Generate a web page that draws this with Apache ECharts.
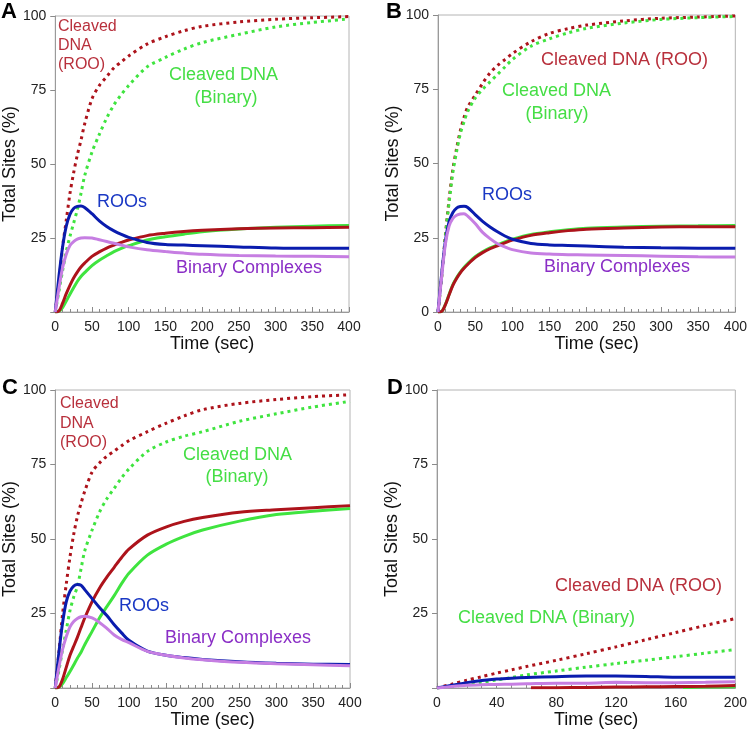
<!DOCTYPE html>
<html><head><meta charset="utf-8">
<script src="https://cdn.jsdelivr.net/npm/echarts@6/dist/echarts.min.js"></script>
<style>html,body{margin:0;padding:0;background:#fff}#c{width:750px;height:732px}</style>
</head><body><div id="c"></div>
<script>
// Time grids (sec)
var T = [0,5,10,15,20,25,30,35,40,50,60,70,80,90,100,125,150,175,200,250,300,350,400];
var TD = [0,10,20,30,40,50,60,80,100,120,140,160,180,200];
var TD_roo = [63,80,100,120,140,160,180,200];
var TD_bin = [165,180,200];

// Panel A
var A_cleavedROO = [0,10,22,31,40,47,53,58,63.5,72,76.5,79.5,82.5,84.5,86.5,90.5,93,95,96.5,98,98.9,99.4,99.8];
var A_cleavedBin = [0,7,14,20.5,25.5,30,34.5,40,46,54,60,65.5,70,73.5,76.5,82.8,86,88.8,91,93.8,96.3,97.8,99];
var A_roos       = [0,12,22,29,33,35,35.7,35.8,35.3,33.2,30.8,28.9,27.4,26.2,25.2,23.5,22.8,22.6,22.4,22,21.6,21.5,21.5];
var A_binary     = [0,8,15,19.5,22.5,23.8,24.6,25,25.1,25,24.4,23.8,23.2,22.6,22,21,20.4,19.9,19.5,19.1,18.9,18.8,18.7];
var A_redSolid   = [0,0.3,3,6.2,9,11.5,13.5,15.2,16.5,18.8,20.3,21.6,22.6,23.5,24.3,25.8,26.6,27.2,27.6,28.1,28.4,28.5,28.6];
var A_greenSolid = [0,0.3,1.5,3.7,6,8.2,10.3,12,13.3,15.7,17.5,19,20.4,21.5,22.4,24.3,25.4,26.3,27.1,28,28.6,29,29.2];

// Panel B
var B_cleavedROO = [0,12,26,38,48,55,61,65.5,69,73,77,80.5,83,85,87,91,93.8,95.4,96.6,98,98.9,99.3,99.7];
var B_cleavedBin = [0,12,25.5,37,47,54,60,64,67.5,72,75,77.5,80,82.5,85,89.5,92,94,95.5,97.3,98.5,99.1,99.5];
var B_roos       = [0,13,24,30.5,33.5,35,35.5,35.6,35.2,32.8,30.5,28.6,27,25.6,24.5,23.1,22.6,22.4,22.2,21.8,21.6,21.5,21.5];
var B_binary     = [0,12,23,29,31.5,32.6,33,33.1,32.3,29.8,26.8,24.7,23,21.9,21,19.9,19.5,19.3,19.2,19,18.8,18.6,18.5];
var B_redSolid   = [0,0.2,2.5,5.8,9,11.3,13.2,14.7,16,18.3,20,21.3,22.3,23.3,24.2,25.8,26.7,27.4,27.9,28.3,28.6,28.7,28.7];
var B_greenSolid = [0,0.2,2.6,6,9.2,11.5,13.4,15,16.3,18.6,20.3,21.6,22.6,23.6,24.5,26.1,27,27.7,28.2,28.6,28.9,29,29.1];

// Panel C
var C_cleavedROO = [0,12,25,35,44,51.5,57.5,62,66,72.5,75.5,77.8,79.5,81.3,83,86,88.8,91.3,93.4,95.5,96.8,97.8,98.4];
var C_cleavedBin = [0,6,13,19.5,26,30.5,34,40,46,53,59,63.5,67,70.5,73.5,79.4,82.5,84.5,86,89.5,92,94.3,96.2];
var C_roos       = [0,12,22,29,32.5,34.2,34.7,34.5,33,30,27,24.3,21.2,18.5,16,12.4,11,10.2,9.6,8.8,8.3,8,7.9];
var C_binary     = [0,7,13,17.3,20.5,22.3,23.3,23.9,24.1,23.5,22,20,17.8,16.3,15.2,12.3,11,10.1,9.5,8.6,8.1,7.8,7.5];
var C_redSolid   = [0,0.3,3,7,11,14,17,20.3,23.5,29,33.5,37.2,40.5,43.8,46.6,51.3,54,55.9,57.2,59,59.8,60.5,61.2];
var C_greenSolid = [0,0.3,1.5,3.5,5.5,7.7,10,12,14.5,19,23.5,27.3,31,35,38.5,44.6,48.2,50.9,53,56,58.2,59.3,60.2];

// Panel D
var D_cleavedROO = [0,1.3,2.6,3.8,5,6.1,7.2,9.3,11.5,13.8,16.2,18.6,21,23.3];
var D_cleavedBin = [0,0.5,1.2,1.9,2.7,3.5,4.4,5.7,7,8.2,9.3,10.5,11.7,12.9];
var D_roos       = [0,0.9,1.8,2.5,3,3.3,3.5,3.8,4,4,3.9,3.6,3.6,3.6];
var D_binary     = [0,0.5,0.9,1.1,1.2,1.3,1.4,1.6,1.6,1.9,1.8,1.8,1.9,2.1];
var D_redSolid   = [0.1,0.1,0.2,0.3,0.4,0.5,0.6,0.8];
var D_greenSolid = [0.2,0.3,0.4];

var yTicks = [0,25,50,75,100];

var RED='#ad131b', GREEN='#3fe43f', BLUE='#0a1cae', PURPLE='#c67ee2';
var RED_T='#b8303c', GREEN_T='#45de45', BLUE_T='#1a38c4', PURPLE_T='#8a2ec6';
var FONT='Arial, "Liberation Sans", sans-serif';

function pairs(t,v){return t.map(function(x,i){return [x,v[i]];});}

var grids=[
 {left:52,top:16,width:297,height:296},
 {left:438,top:15,width:298,height:297},
 {left:52,top:390,width:298,height:298},
 {left:437,top:390,width:299,height:298}
];
var xMax=[400,400,400,200], xInt=[50,50,50,40], xSplit=[5,5,5,4];
var showZero=[false,true,false,false];

var xAxes=[],yAxes=[],series=[];
grids.forEach(function(g,i){
  g.show=true; g.borderColor='#b4b4b4'; g.borderWidth=1; g.containLabel=false;
  xAxes.push({type:'value',gridIndex:i,min:0,max:xMax[i],interval:xInt[i],
    name:'Time (sec)',nameLocation:'middle',nameGap:21,
    nameTextStyle:{fontSize:18,color:'#111',fontFamily:FONT,padding:[0,0,0,20]},
    axisLine:{show:true,onZero:false,lineStyle:{color:'#9a9a9a',width:1}},
    axisTick:{show:true,inside:true,length:5,lineStyle:{color:'#8a8a8a'}},
    minorTick:{show:true,splitNumber:xSplit[i],length:3,lineStyle:{color:'#8a8a8a'}},
    splitLine:{show:false},minorSplitLine:{show:false},
    axisLabel:{fontSize:14,color:'#222',fontFamily:FONT,margin:8}});
  var sz=showZero[i];
  yAxes.push({type:'value',gridIndex:i,min:yTicks[0],max:yTicks[yTicks.length-1],interval:yTicks[1]-yTicks[0],
    name:'Total Sites (%)',nameLocation:'middle',nameGap:30,
    nameTextStyle:{fontSize:18,color:'#111',fontFamily:FONT},
    axisLine:{show:true,onZero:false,lineStyle:{color:'#9a9a9a',width:1}},
    axisTick:{show:true,inside:false,length:5,lineStyle:{color:'#8a8a8a'}},
    splitLine:{show:false},
    axisLabel:{fontSize:14,color:'#222',fontFamily:FONT,margin:9,
      formatter:function(v){return (v===0&&!sz)?'':String(v);}}});
});

function dotted(i,data,color){return {type:'line',xAxisIndex:i,yAxisIndex:i,data:data,showSymbol:false,smooth:0.3,
  lineStyle:{color:color,width:3,type:[3,4],cap:'butt'},silent:true,animation:false};}
function solid(i,data,color){return {type:'line',xAxisIndex:i,yAxisIndex:i,data:data,showSymbol:false,smooth:0.3,
  lineStyle:{color:color,width:3},silent:true,animation:false};}

var P=[
 [A_cleavedROO,A_cleavedBin,A_greenSolid,A_redSolid,A_roos,A_binary],
 [B_cleavedROO,B_cleavedBin,B_greenSolid,B_redSolid,B_roos,B_binary],
 [C_cleavedROO,C_cleavedBin,C_greenSolid,C_redSolid,C_roos,C_binary]
];
P.forEach(function(p,i){
  series.push(dotted(i,pairs(T,p[0]),RED));
  series.push(dotted(i,pairs(T,p[1]),GREEN));
  series.push(solid(i,pairs(T,p[2]),GREEN));
  series.push(solid(i,pairs(T,p[3]),RED));
  series.push(solid(i,pairs(T,p[4]),BLUE));
  series.push(solid(i,pairs(T,p[5]),PURPLE));
});
series.push(dotted(3,pairs(TD,D_cleavedROO),RED));
series.push(dotted(3,pairs(TD,D_cleavedBin),GREEN));
series.push(solid(3,pairs(TD_bin,D_greenSolid),GREEN));
series.push(solid(3,pairs(TD_roo,D_redSolid),RED));
series.push(solid(3,pairs(TD,D_roos),BLUE));
series.push(solid(3,pairs(TD,D_binary),PURPLE));

function txt(s,x,y,color,size,align,bold){
  return {type:'text',x:x,y:y,z:100,silent:true,style:{text:s,fill:color,
    font:(bold?'bold ':'')+size+'px '+FONT,textAlign:align||'left',align:align||'left',
    textVerticalAlign:'middle',verticalAlign:'middle'}};
}
var graphics=[
 txt('A',1,12,'#000',22,'left',true),
 txt('B',386,12,'#000',22,'left',true),
 txt('C',2,388,'#000',22,'left',true),
 txt('D',387,388,'#000',22,'left',true),
 // A
 txt('Cleaved',58,27,RED_T,16),txt('DNA',58,46,RED_T,16),txt('(ROO)',58,65,RED_T,16),
 txt('Cleaved DNA',169,75,GREEN_T,18),txt('(Binary)',226,98,GREEN_T,18,'center'),
 txt('ROOs',97,202,BLUE_T,18),txt('Binary Complexes',176,268,PURPLE_T,18),
 // B
 txt('Cleaved DNA (ROO)',541,60,RED_T,18),
 txt('Cleaved DNA',502,91,GREEN_T,18),txt('(Binary)',557,114,GREEN_T,18,'center'),
 txt('ROOs',482,195,BLUE_T,18),txt('Binary Complexes',544,267,PURPLE_T,18),
 // C
 txt('Cleaved',60,404,RED_T,16),txt('DNA',60,423.5,RED_T,16),txt('(ROO)',60,443,RED_T,16),
 txt('Cleaved DNA',183,455,GREEN_T,18),txt('(Binary)',237,477,GREEN_T,18,'center'),
 txt('ROOs',119,606,BLUE_T,18),txt('Binary Complexes',165,638,PURPLE_T,18),
 // D
 txt('Cleaved DNA (ROO)',555,586,RED_T,18),
 txt('Cleaved DNA (Binary)',458,618,GREEN_T,18)
];

var chart=echarts.init(document.getElementById('c'),null,{renderer:'canvas'});
chart.setOption({backgroundColor:'#fff',animation:false,grid:grids,xAxis:xAxes,yAxis:yAxes,series:series,graphic:graphics,
  textStyle:{fontFamily:FONT}});
</script></body></html>
